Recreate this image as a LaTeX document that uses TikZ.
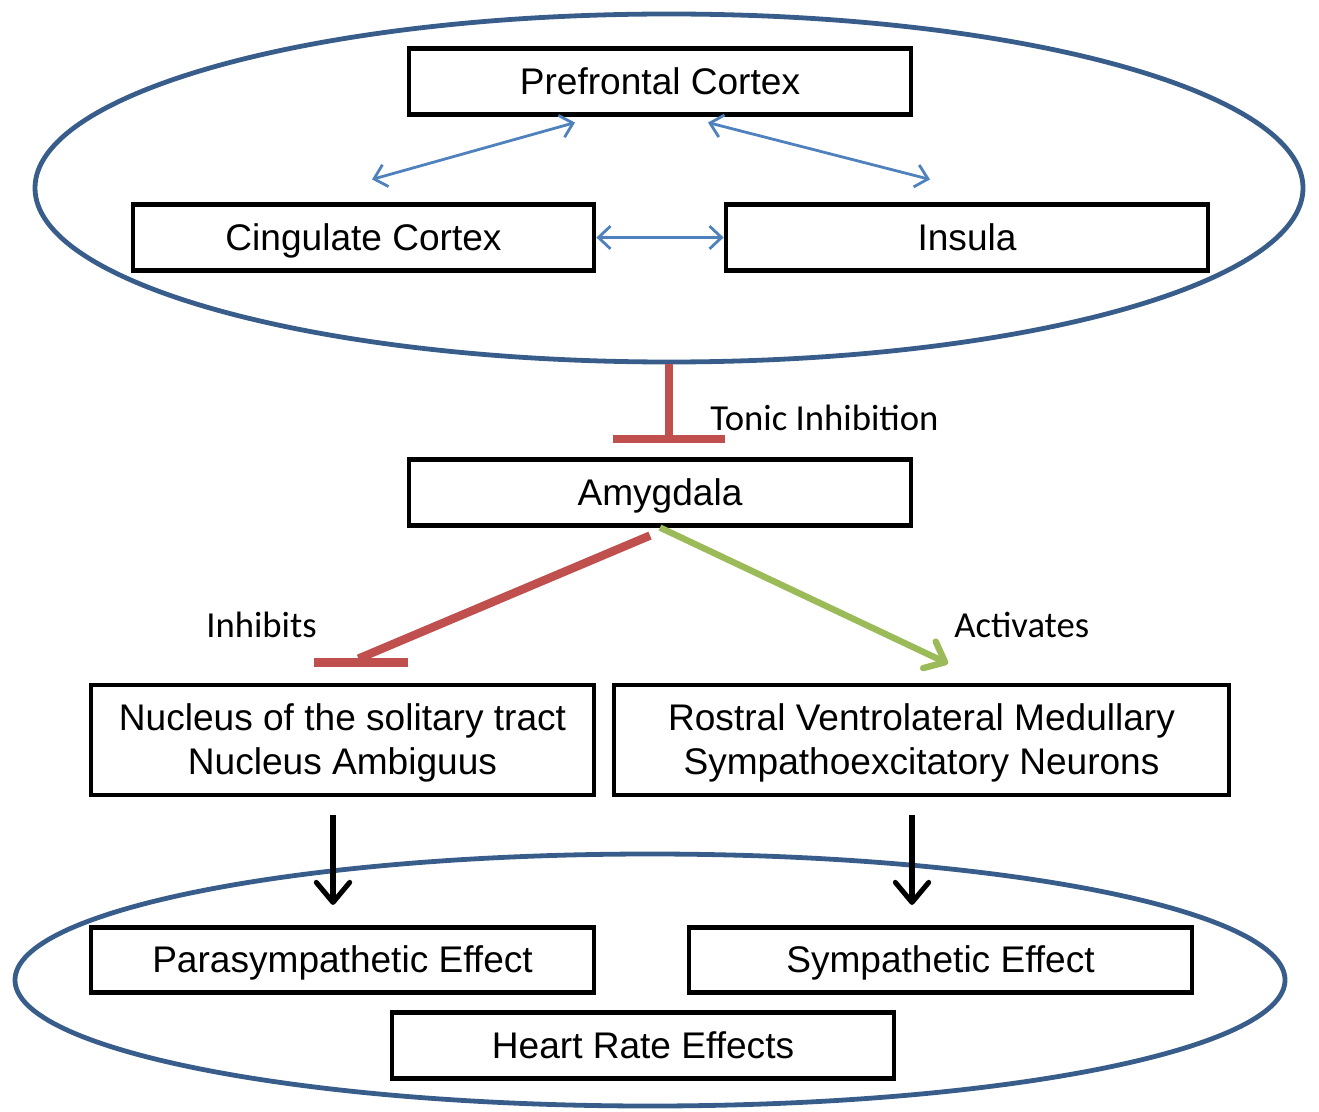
\documentclass[tikz,border=0pt]{standalone}
\usepackage{fontspec}
\setmainfont{Liberation Sans}
\newfontfamily\labelfont{Carlito}
\usetikzlibrary{arrows.meta,shapes.geometric,calc}

\definecolor{ringblue}{HTML}{385D8A}
\definecolor{linkblue}{HTML}{4F81BD}
\definecolor{inhibred}{HTML}{C0504D}
\definecolor{actgreen}{HTML}{9BBB59}

\tikzset{
  block/.style={draw, line width=3.6pt, fill=white, inner sep=0pt, align=center,
    minimum height=49pt, text depth=0.1em, font=\fontsize{27.8pt}{33pt}\selectfont},
  ring/.style={draw=ringblue, ellipse, line width=3.6pt, inner sep=0pt},
  bothway/.style={draw=linkblue, line width=2.1pt,
    {Straight Barb[length=9pt,width=17pt]}-{Straight Barb[length=9pt,width=17pt]}},
  inhib/.style={draw=inhibred, line width=6.3pt},
  excite/.style={draw=actgreen, line width=4.8pt, -{Straight Barb[length=13pt,width=22pt,round]}},
  feed/.style={draw=black, line width=3.8pt, -{Straight Barb[length=15pt,width=25pt,round]}},
  tag/.style={anchor=west, inner sep=0.75pt, font=\labelfont\fontsize{27.5pt}{33pt}\selectfont}
}

\begin{document}
\begin{tikzpicture}[x=0.75pt,y=0.75pt,yscale=-1,xscale=1]
\useasboundingbox (0,0) rectangle (1319,1112);

%Shape: Ellipse [cortical ring]
\node [ring, minimum width=951pt, minimum height=261pt] (cortexring) at (669,188) {};
%Shape: Ellipse [effect ring]
\node [ring, minimum width=952.5pt, minimum height=189pt] (effectring) at (650,980) {};

%Boxes
\node [block, minimum width=376.5pt] (pfc) at (660,81.5) {Prefrontal Cortex};
\node [block, minimum width=345.75pt] (cc) at (363.5,237.5) {Cingulate Cortex};
\node [block, minimum width=361.5pt] (ins) at (967,237.5) {Insula};
\node [block, minimum width=376.5pt] (amyg) at (660,492.5) {Amygdala};
\node [block, minimum width=377.25pt, minimum height=82.5pt] (nts) at (342.5,740)
  {Nucleus of the solitary tract\\Nucleus Ambiguus};
\node [block, minimum width=461.25pt, minimum height=82.5pt] (rvlm) at (921.5,740)
  {Rostral Ventrolateral Medullary\\Sympathoexcitatory Neurons};
\node [block, minimum width=377.25pt] (para) at (342.5,960) {Parasympathetic Effect};
\node [block, minimum width=377.25pt] (symp) at (940.5,960) {Sympathetic Effect};
\node [block, minimum width=376.5pt] (hr) at (643,1045.5) {Heart Rate Effects};

%Straight Lines [cortical links]
\draw [bothway] ([shift={(8.5,-23)}]cc.north) -- ([shift={(-85,6)}]pfc.south);
\draw [bothway] ([shift={(48,6)}]pfc.south) -- ([shift={(-37,-23)}]ins.north);
\draw [bothway] (cc.east) -- (ins.west);

%Straight Lines [tonic inhibition]
\draw [inhib, -{Bar[width=84pt]}] (cortexring.south) -- ($(cortexring.south |- amyg.north)+(0,-14)$);
%Straight Lines [inhibits]
\draw [inhib] ([shift={(-10,8)}]amyg.south) -- ($(nts.north)+(16,-24)$);
\draw [inhib] ($(nts.north)+(-28.5,-20)$) -- ($(nts.north)+(65.5,-20)$);
%Straight Lines [activates]
\draw [excite] (amyg.south) -- ($(rvlm.north)+(26.5,-19)$);

%Straight Lines [outputs]
\draw [feed] ([shift={(-9.5,18)}]nts.south) -- ([shift={(-9.5,-20)}]para.north);
\draw [feed] ([shift={(-9.5,18)}]rvlm.south) -- ([shift={(-28.5,-20)}]symp.north);

% Text Node
\node [tag] (tonictag) at (709,418) {Tonic Inhibition};
% Text Node
\node [tag] (inhibtag) at (205,625) {Inhibits};
% Text Node
\node [tag] (acttag) at (953,625) {Activates};

\end{tikzpicture}
\end{document}
